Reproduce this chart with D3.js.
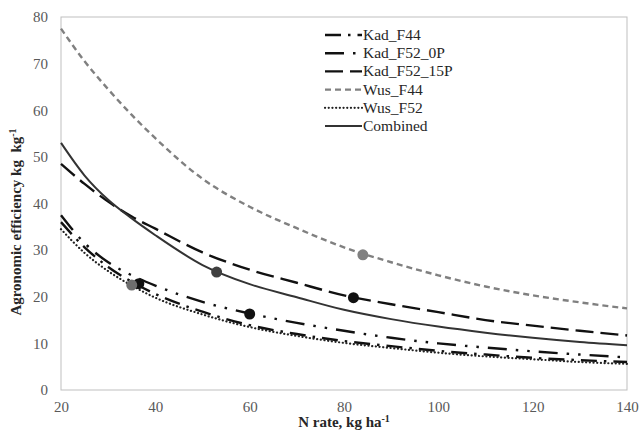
<!DOCTYPE html>
<html>
<head>
<meta charset="utf-8">
<script src="https://cdn.jsdelivr.net/npm/d3@7"></script>
<style>
  body { margin: 0; background: #fff; }
</style>
</head>
<body>
<svg id="chart" width="639" height="432"></svg>
<script>

// N rate (kg/ha) where the curves were read
var nRate = [20, 25, 30, 35, 40, 50, 60, 70, 80, 90, 100, 110, 120, 130, 140];

// agronomic efficiency curves
var kadF44    = [36.0, 30.6, 26.4, 23.2, 20.6, 16.8, 13.9, 12.0, 10.5, 9.4, 8.4, 7.6, 6.9, 6.4, 6.0];
var kadF52_0P = [37.5, 31.5, 27.4, 24.6, 22.4, 18.9, 16.4, 14.4, 12.7, 11.2, 10.0, 9.1, 8.3, 7.6, 7.0];
var kadF52_15P= [48.5, 44.2, 40.4, 37.2, 34.6, 29.5, 25.8, 23.0, 20.3, 18.4, 16.7, 15.0, 13.8, 12.7, 11.7];
var wusF44    = [77.5, 70.5, 64.5, 59.0, 54.0, 45.3, 39.3, 34.7, 30.6, 27.4, 24.6, 22.2, 20.3, 18.8, 17.5];
var wusF52    = [34.5, 29.4, 25.5, 22.4, 19.8, 16.2, 13.5, 11.6, 10.1, 9.0, 8.0, 7.2, 6.6, 6.0, 5.6];
var combined  = [53.0, 46.0, 40.8, 36.8, 33.2, 26.8, 22.7, 19.9, 17.2, 15.2, 13.6, 12.3, 11.2, 10.3, 9.6];

// one marker per series (optimum N rate, efficiency)
var optN  = [36.5, 60, 82, 84, 35, 53];
var optAE = [22.8, 16.3, 19.8, 29.0, 22.5, 25.3];

var seriesNames = ["Kad_F44", "Kad_F52_0P", "Kad_F52_15P", "Wus_F44", "Wus_F52", "Combined"];
var xTicks = [20, 40, 60, 80, 100, 120, 140];
var yTicks = [0, 10, 20, 30, 40, 50, 60, 70, 80];

var serif = "'Liberation Serif', 'Times New Roman', Times, serif";

var svg = d3.select("#chart");
var margin = {left: 61, right: 12, top: 17, bottom: 42};
var width = 639 - margin.left - margin.right;
var height = 432 - margin.top - margin.bottom;

var xScale = d3.scaleLinear().domain([20, 140]).range([0, width]);
var yScale = d3.scaleLinear().domain([0, 80]).range([height, 0]);

var g = svg.append("g").attr("transform", "translate(" + margin.left + "," + margin.top + ")");

// line looks, in the same order as seriesNames
var styles = [
	{stroke: "#111", width: 2.4, dash: "16,7,2.5,7", cap: "butt", mark: "#111"},
	{stroke: "#111", width: 2.4, dash: "19,9,2.5,9,2.5,9", cap: "butt", mark: "#111"},
	{stroke: "#111", width: 2.4, dash: "18,7", cap: "butt", mark: "#111"},
	{stroke: "#808080", width: 2.4, dash: "6,4", cap: "butt", mark: "#808080"},
	{stroke: "#222", width: 2.2, dash: "0.1,3.6", cap: "round", mark: "#6e6e6e"},
	{stroke: "#333", width: 2, dash: null, cap: "butt", mark: "#404040"}
];

var allSeries = [kadF44, kadF52_0P, kadF52_15P, wusF44, wusF52, combined];

// plot box
g.append("rect")
	.attr("x", 0).attr("y", 0)
	.attr("width", width).attr("height", height)
	.attr("fill", "none")
	.attr("stroke", "#bfbfbf")
	.attr("stroke-width", 1);

// axes, labels only
var xAxis = d3.axisBottom(xScale).tickValues(xTicks).tickSize(0).tickPadding(11);
var yAxis = d3.axisLeft(yScale).tickValues(yTicks).tickSize(0).tickPadding(13);

var gx = g.append("g").attr("transform", "translate(0," + height + ")").call(xAxis);
var gy = g.append("g").call(yAxis);
[gx, gy].forEach(function(a) {
	a.attr("font-family", serif).attr("font-size", 15);
	a.select(".domain").remove();
	a.selectAll("text")
		.style("font-family", serif)
		.style("font-size", "15px")
		.attr("fill", "#595959");
});

var line = d3.line()
	.x(function(d) { return xScale(d.n); })
	.y(function(d) { return yScale(d.v); })
	.curve(d3.curveMonotoneX);

allSeries.forEach(function(vals, i) {
	var pts = nRate.map(function(n, j) { return {n: n, v: vals[j]}; });
	var s = styles[i];
	g.append("path")
		.datum(pts)
		.attr("d", line)
		.attr("fill", "none")
		.attr("stroke", s.stroke)
		.attr("stroke-width", s.width)
		.attr("stroke-linecap", s.cap)
		.attr("stroke-dasharray", s.dash);
});

// markers on top
optN.forEach(function(n, i) {
	g.append("circle")
		.attr("cx", xScale(n))
		.attr("cy", yScale(optAE[i]))
		.attr("r", 5.5)
		.attr("fill", styles[i].mark);
});

// legend
var legend = svg.append("g").attr("transform", "translate(325,35)");
seriesNames.forEach(function(name, i) {
	var s = styles[i];
	var row = legend.append("g").attr("transform", "translate(0," + (i * 18.2) + ")");
	row.append("line")
		.attr("x1", 0).attr("x2", 37)
		.attr("y1", 0).attr("y2", 0)
		.attr("stroke", s.stroke)
		.attr("stroke-width", s.width)
		.attr("stroke-linecap", s.cap)
		.attr("stroke-dasharray", s.dash);
	row.append("text")
		.attr("x", 38)
		.attr("y", 5)
		.style("font-family", serif)
		.style("font-size", "15.5px")
		.attr("fill", "#262626")
		.text(name);
});

// axis titles
var xt = svg.append("text")
	.attr("x", margin.left + width / 2)
	.attr("y", 427)
	.attr("text-anchor", "middle")
	.style("font-family", serif)
	.style("font-size", "15px")
	.style("font-weight", "bold")
	.attr("fill", "#262626");
xt.append("tspan").text("N rate, kg ha");
xt.append("tspan").attr("dy", -5).style("font-size", "10px").text("-1");

var yt = svg.append("text")
	.attr("transform", "translate(21,222) rotate(-90)")
	.attr("text-anchor", "middle")
	.style("font-family", serif)
	.style("font-size", "15px")
	.style("font-weight", "bold")
	.attr("fill", "#262626");
yt.append("tspan").text("Agronomic efficiency kg\u00a0\u00a0kg");
yt.append("tspan").attr("dy", -5).style("font-size", "10px").text("-1");

</script>
</body>
</html>
